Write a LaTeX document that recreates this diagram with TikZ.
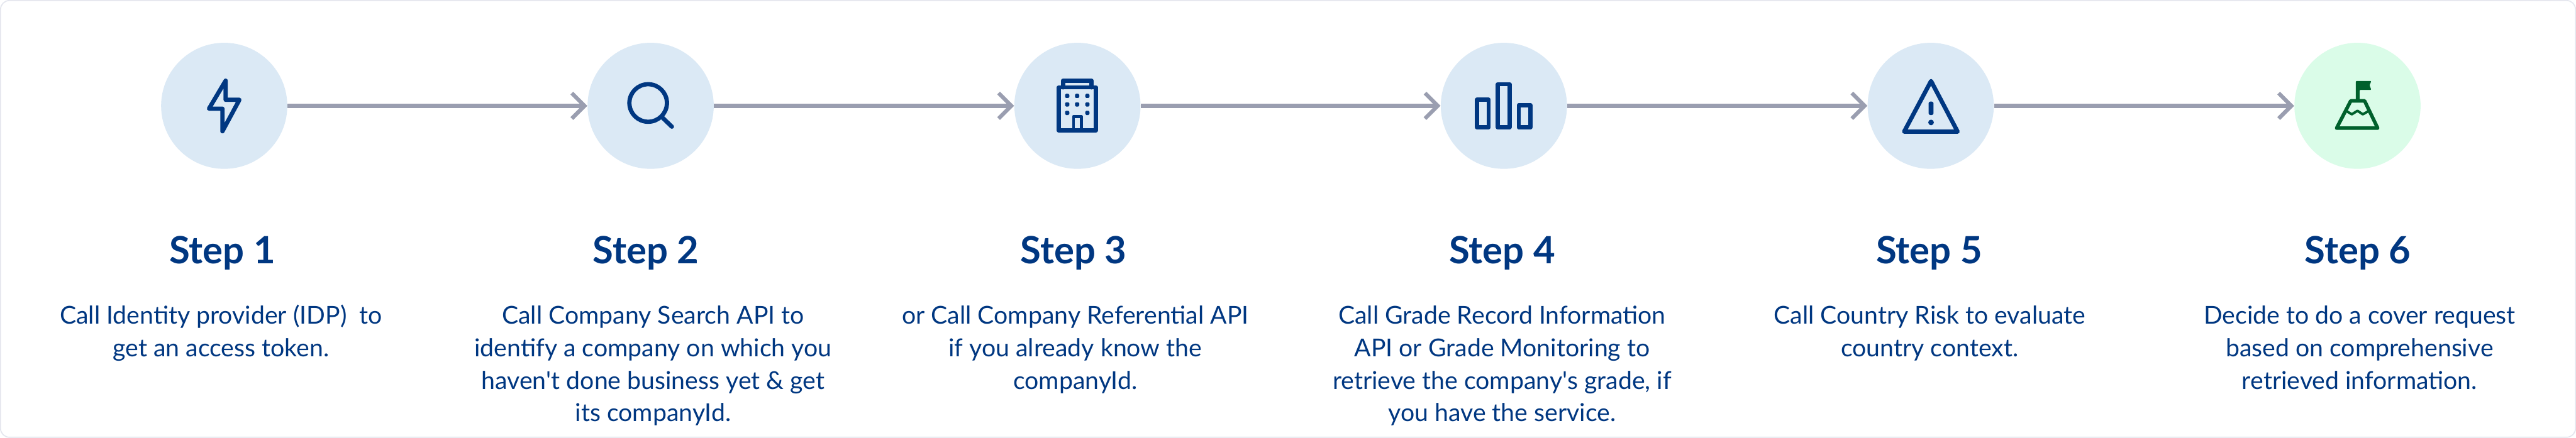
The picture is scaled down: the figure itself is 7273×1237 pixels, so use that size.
\documentclass[tikz,border=0pt]{standalone}
\usepackage{fontspec}
\setmainfont{Lato}
\usetikzlibrary{arrows.meta}
\definecolor{navy}{HTML}{003781}
\definecolor{pale}{HTML}{DBE9F5}
\definecolor{mint}{HTML}{DAFCE8}
\definecolor{forest}{HTML}{00602C}
\definecolor{slate}{HTML}{9A9EB0}
\definecolor{rim}{HTML}{E4E6EE}
\tikzset{
  px/.style={x=0.01cm,y=-0.01cm},
  disc/.style={circle,minimum size=3.56cm,inner sep=0pt,draw=none,fill=#1},
  link/.style={draw=slate,line width=1.2mm,-{Straight Barb[length=3.6mm,width=7.2mm,line width=1.1mm]}},
  ico/.style={draw=navy,line width=1.2mm,line join=round,line cap=round},
  icog/.style={draw=forest,line width=1mm,line join=round,line cap=round},
  head/.style={anchor=base,inner sep=0pt,text=navy,font=\fontsize{30.2pt}{32pt}\selectfont\bfseries},
  body/.style={anchor=north,inner sep=0pt,align=center,text=navy,font=\fontsize{19.8pt}{26.1pt}\selectfont},
}
\newcommand{\apo}{\textquotesingle}
\begin{document}
\begin{tikzpicture}[px]
\useasboundingbox (0,0) rectangle (7273,1237);
\fill[white] (0,0) rectangle (7273,1237);
\draw[rim,line width=0.3mm,rounded corners=0.25cm] (1.5,1.5) rectangle (7271.5,1235.5);
% discs
\node[disc=pale] (s1) at (633,299) {};
\node[disc=pale] (s2) at (1837,299) {};
\node[disc=pale] (s3) at (3042,299) {};
\node[disc=pale] (s4) at (4246,299) {};
\node[disc=pale] (s5) at (5451,299) {};
\node[disc=mint] (s6) at (6656,299) {};
% connectors
\draw[link] (s1) -- (s2);
\draw[link] (s2) -- (s3);
\draw[link] (s3) -- (s4);
\draw[link] (s4) -- (s5);
\draw[link] (s5) -- (s6);
% bolt
\draw[ico] (637,228) -- (637,282) -- (676,282) -- (628,371) -- (628,307) -- (590,307) -- cycle;
% search
\draw[ico] (1830,291) circle (0.53cm);
\draw[ico] (1870,332) -- (1897,358);
% building
\draw[ico] (2989,247) rectangle (3094,369);
\draw[ico] (3001,247) -- (3001,228) -- (3082,228) -- (3082,247);
\foreach \wx/\wy in {3013/271,3041/271,3070/271,3013/295,3041/295,3070/295,3013/319,3070/319}
  \fill[navy,rounded corners=0.03cm] (\wx-6,\wy-6) rectangle (\wx+6,\wy+6);
\draw[ico,line width=0.85mm] (3031,369) -- (3031,329) -- (3053,329) -- (3053,369);
% chart
\draw[ico] (4170,282) rectangle (4203,360);
\draw[ico] (4229,238) rectangle (4262,360);
\draw[ico] (4288,297) rectangle (4321,360);
% warning
\draw[ico] (5452,229) -- (5527,372) -- (5376,372) -- cycle;
\fill[navy,rounded corners=0.05cm] (5445,287) rectangle (5459,325);
\fill[navy] (5452,346) circle (0.08cm);
% flag and mountain
\fill[forest,rounded corners=0.02cm] (6651,282) -- (6651,229) -- (6695,229) -- (6690,241) -- (6695,254) -- (6662,254) -- (6662,282) -- cycle;
\draw[icog] (6597,362) -- (6637,285) -- (6676,285) -- (6713,362) -- cycle;
\draw[icog,line width=0.7mm] (6625,314) -- (6640,323) -- (6656,313) -- (6671,323) -- (6687,314);
% headings
\node[head] (h1) at (628,744) {Step 1};
\node[head] (h2) at (1824,744) {Step 2};
\node[head] (h3) at (3031,744) {Step 3};
\node[head] (h4) at (4241,744) {Step 4};
\node[head] (h5) at (5447,744) {Step 5};
\node[head] (h6) at (6657,744) {Step 6};
% bodies
\node[body] (b1) at (624,851) {\strut Call Identity provider (IDP)\ \ to\\get an access token.};
\node[body] (b2) at (1844,851) {\strut Call Company Search API to\\identify a company on which you\\haven\apo t done business yet \& get\\its companyId.};
\node[body] (b3) at (3036,851) {\strut or Call Company Referential API\\if you already know the\\companyId.};
\node[body] (b4) at (4241,851) {\strut Call Grade Record Information\\API or Grade Monitoring to\\retrieve the company\apo s grade, if\\you have the service.};
\node[body] (b5) at (5448,851) {\strut Call Country Risk to evaluate\\country context.};
\node[body] (b6) at (6662,851) {\strut Decide to do a cover request\\based on comprehensive\\retrieved information.};
\end{tikzpicture}
\end{document}
